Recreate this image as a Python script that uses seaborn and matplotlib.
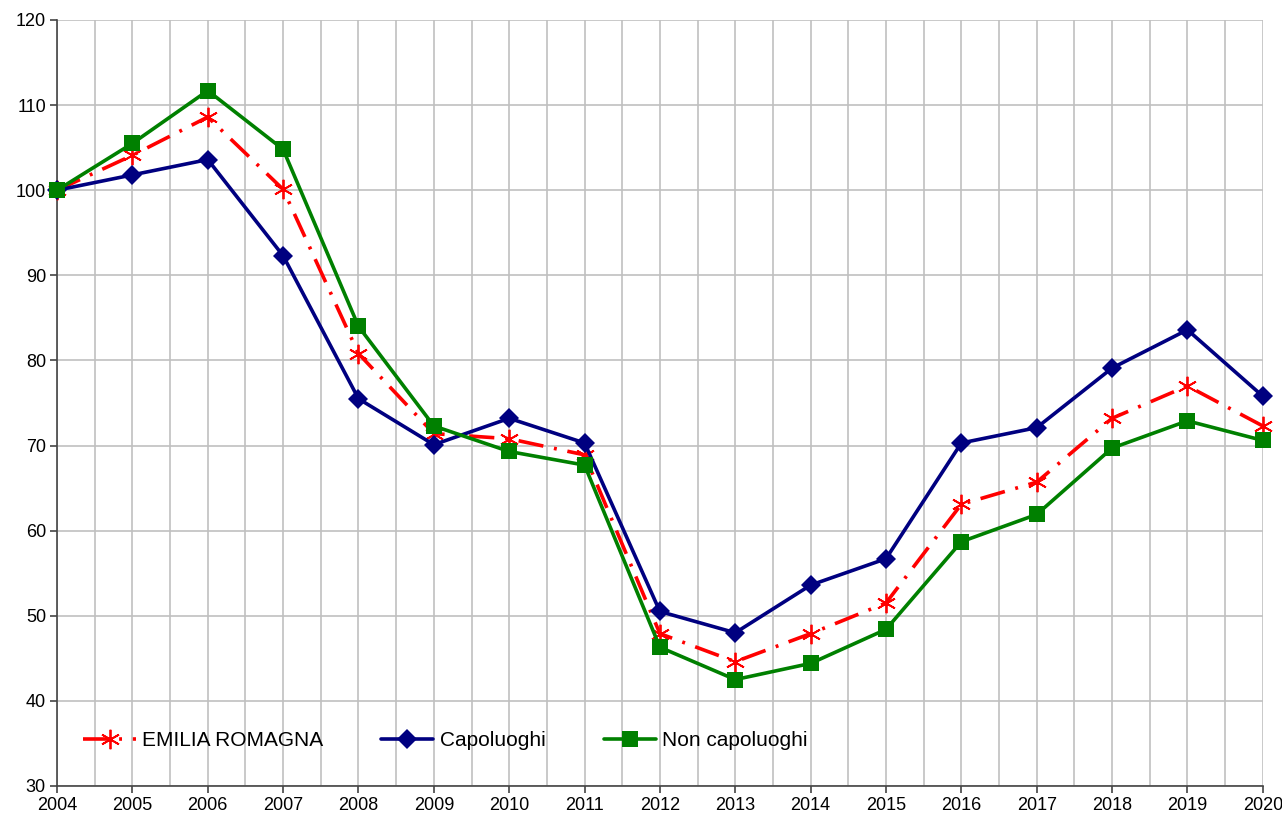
import numpy as np
import pandas as pd
import matplotlib
matplotlib.use("Agg")
import matplotlib.pyplot as plt
import matplotlib.ticker as ticker
import seaborn as sns

years = list(range(2004, 2021))
emilia = [100, 104.1, 108.6, 100.1, 80.8, 71.4, 70.8, 68.9, 47.9, 44.6,
          47.9, 51.5, 63.1, 65.7, 73.2, 77.0, 72.3]
capoluoghi = [100, 101.8, 103.6, 92.3, 75.5, 70.1, 73.2, 70.3, 50.5, 48.0,
              53.6, 56.7, 70.3, 72.1, 79.1, 83.6, 75.8]
non_capoluoghi = [100, 105.5, 111.7, 104.8, 84.0, 72.3, 69.3, 67.7, 46.3, 42.5,
                  44.4, 48.4, 58.7, 61.9, 69.7, 72.9, 70.6]

series_names = ["EMILIA ROMAGNA", "Capoluoghi", "Non capoluoghi"]

data = pd.DataFrame({
    "anno": years * 3,
    "valore": emilia + capoluoghi + non_capoluoghi,
    "serie": [n for n in series_names for _ in years],
})

sns.set_theme(style="white")
plt.rcParams['font.family'] = ['Liberation Sans', 'DejaVu Sans']
plt.rcParams['text.color'] = 'black'
plt.rcParams['xtick.color'] = 'black'
plt.rcParams['ytick.color'] = 'black'

fig = plt.figure(figsize=(12.82, 8.23), dpi=100)
ax = fig.add_axes([0.0445, 0.045, 0.9405, 0.9307])

styles = {
    "EMILIA ROMAGNA": dict(color="#FF0000", marker=(6, 2, 0), markersize=14,
                           markeredgewidth=1.3, linestyle=(0, (7, 3, 0.8, 3)),
                           linewidth=2.6),
    "Capoluoghi": dict(color="#000080", marker="D", markersize=10.5,
                       linestyle="-", linewidth=2.6),
    "Non capoluoghi": dict(color="#008000", marker="s", markersize=11,
                           linestyle="-", linewidth=2.6),
}

for name in series_names:
    sub = data[data["serie"] == name]
    st = styles[name]
    sns.lineplot(data=sub, x="anno", y="valore", ax=ax, label=name,
                 color=st["color"], marker=st["marker"],
                 markersize=st["markersize"],
                 markeredgewidth=st.get("markeredgewidth", 0),
                 markeredgecolor=st["color"],
                 linestyle=st["linestyle"], linewidth=st["linewidth"],
                 clip_on=False, zorder=5)

ax.set_xlim(2004, 2020)
ax.set_ylim(30, 120)
ax.xaxis.set_major_locator(ticker.MultipleLocator(1))
ax.xaxis.set_minor_locator(ticker.MultipleLocator(0.5))
ax.yaxis.set_major_locator(ticker.MultipleLocator(10))
ax.grid(which="both", axis="x", color="#c0c0c0", linewidth=1.2)
ax.grid(which="major", axis="y", color="#c0c0c0", linewidth=1.2)
ax.set_axisbelow(True)

for side in ["top", "right"]:
    ax.spines[side].set_visible(False)
for side in ["left", "bottom"]:
    ax.spines[side].set_color("#444444")
    ax.spines[side].set_linewidth(1.2)

ax.tick_params(axis="both", which="major", direction="out", length=5,
               width=1.2, color="#444444", labelsize=13, pad=3,
               left=True, bottom=True)
ax.tick_params(axis="x", which="minor", bottom=False)
ax.set_xlabel("")
ax.set_ylabel("")

ax.legend(loc="center left", bbox_to_anchor=(0.015, 0.059), ncol=3,
          frameon=False, fontsize=15, handlelength=2.5, handletextpad=0.3,
          columnspacing=2.8, borderaxespad=0)

fig.savefig("out.png", dpi=100)
